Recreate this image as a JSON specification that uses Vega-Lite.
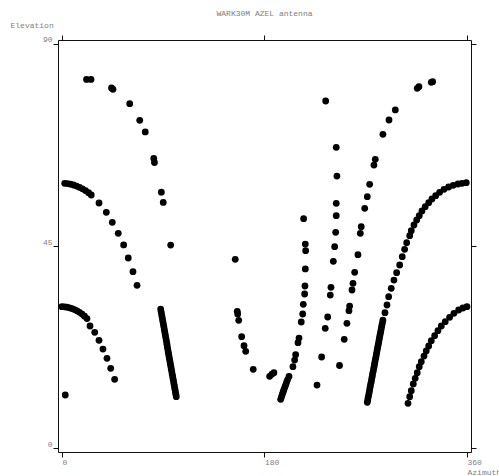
{
  "$schema": "https://vega.github.io/schema/vega-lite/v6.json",
  "width": 413,
  "height": 412,
  "autosize": {"type": "none"},
  "padding": {"left": 58, "top": 40, "right": 28, "bottom": 24},
  "background": "white",
  "title": {"text": "WARK30M AZEL antenna", "anchor": "middle", "frame": "group", "font": "Liberation Mono", "fontSize": 8, "fontWeight": "normal", "color": "#808080", "offset": 3},
  "config": {
    "view": {"stroke": "#111", "strokeWidth": 1},
    "axis": {"grid": false, "domain": false, "tickColor": "#111", "tickSize": 5, "tickWidth": 1, "labelFont": "Liberation Mono", "labelFontSize": 8, "labelColor": "#808080", "titleFont": "Liberation Mono", "titleFontSize": 8, "titleFontWeight": "normal", "titleColor": "#808080"}
  },
  "data": {"values": [
    {"az":21.8,"el":82.1},{"az":25.8,"el":82.1},{"az":44.0,"el":80.2},{"az":45.3,"el":79.9},{"az":60.2,"el":76.7},{"az":69.1,"el":73.0},{"az":74.0,"el":70.4},{"az":81.6,"el":64.5},{"az":82.2,"el":63.6},{"az":88.3,"el":57.0},{"az":90.0,"el":54.7},{"az":96.6,"el":45.2},
    {"az":2.4,"el":58.97},{"az":4.9,"el":58.9},{"az":7.6,"el":58.77},{"az":10.2,"el":58.59},{"az":12.9,"el":58.36},{"az":15.6,"el":58.08},{"az":18.2,"el":57.74},{"az":20.9,"el":57.34},{"az":23.6,"el":56.89},{"az":26.0,"el":56.36},{"az":32.9,"el":54.58},{"az":39.4,"el":52.51},{"az":44.7,"el":50.28},{"az":50.0,"el":47.83},{"az":54.8,"el":45.23},{"az":58.9,"el":42.33},{"az":63.1,"el":39.28},{"az":66.7,"el":36.24},
    {"az":0.0,"el":31.48},{"az":2.2,"el":31.46},{"az":4.4,"el":31.37},{"az":6.7,"el":31.23},{"az":8.9,"el":31.06},{"az":11.1,"el":30.83},{"az":13.3,"el":30.56},{"az":15.6,"el":30.23},{"az":17.8,"el":29.83},{"az":20.0,"el":29.36},{"az":22.2,"el":28.83},{"az":24.9,"el":27.18},{"az":29.1,"el":25.77},{"az":32.9,"el":23.99},{"az":36.4,"el":22.05},{"az":40.0,"el":19.98},{"az":43.3,"el":17.75},{"az":46.8,"el":15.3},
    {"az":2.9,"el":11.81},
    {"az":87.7,"el":30.96},{"az":88.1,"el":30.4},{"az":88.5,"el":29.84},{"az":88.9,"el":29.28},{"az":89.3,"el":28.72},{"az":89.7,"el":28.16},{"az":90.1,"el":27.61},{"az":90.5,"el":27.05},{"az":90.9,"el":26.49},{"az":91.3,"el":25.93},{"az":91.7,"el":25.37},{"az":92.1,"el":24.82},{"az":92.5,"el":24.26},{"az":92.9,"el":23.7},{"az":93.3,"el":23.14},{"az":93.6,"el":22.58},{"az":94.0,"el":22.03},{"az":94.4,"el":21.47},{"az":94.8,"el":20.91},{"az":95.2,"el":20.35},{"az":95.6,"el":19.79},{"az":96.0,"el":19.24},{"az":96.4,"el":18.68},{"az":96.8,"el":18.12},{"az":97.2,"el":17.56},{"az":97.6,"el":17.0},{"az":98.0,"el":16.45},{"az":98.4,"el":15.89},{"az":98.8,"el":15.33},{"az":99.2,"el":14.77},{"az":99.6,"el":14.21},{"az":100.0,"el":13.66},{"az":100.4,"el":13.1},{"az":100.8,"el":12.54},{"az":101.2,"el":11.98},{"az":101.6,"el":11.43},
    {"az":154.0,"el":42.04},
    {"az":155.8,"el":30.45},{"az":156.2,"el":29.85},{"az":157.1,"el":28.45},{"az":159.7,"el":24.79},{"az":161.8,"el":22.79},{"az":163.3,"el":21.54},{"az":170.0,"el":17.53},{"az":184.6,"el":15.97},{"az":186.7,"el":16.48},{"az":188.4,"el":16.77},
    {"az":194.4,"el":10.85},{"az":195.1,"el":11.36},{"az":195.8,"el":11.9},{"az":196.5,"el":12.43},{"az":197.2,"el":12.94},{"az":198.0,"el":13.48},{"az":198.8,"el":14.03},{"az":199.6,"el":14.59},{"az":200.5,"el":15.19},{"az":201.8,"el":15.93},{"az":205.3,"el":18.11},{"az":206.8,"el":19.6},{"az":207.7,"el":20.78},{"az":209.8,"el":23.46},{"az":210.7,"el":24.5},{"az":212.7,"el":28.07},{"az":214.0,"el":29.85},{"az":214.5,"el":32.01},{"az":215.7,"el":34.31},{"az":216.0,"el":36.09},{"az":216.3,"el":39.88},{"az":216.6,"el":43.95},{"az":216.3,"el":45.44},{"az":214.8,"el":51.08},
    {"az":234.4,"el":77.3},
    {"az":243.8,"el":66.99},{"az":244.4,"el":60.59},{"az":243.8,"el":54.51},{"az":243.8,"el":51.75},{"az":243.3,"el":48.05},{"az":242.4,"el":44.84},{"az":241.2,"el":41.59},{"az":239.1,"el":35.8},{"az":238.5,"el":34.08},{"az":236.2,"el":29.18},{"az":234.0,"el":26.67},{"az":230.8,"el":20.27},{"az":226.7,"el":14.03},{"az":246.7,"el":18.38},
    {"az":329.5,"el":81.6},{"az":328.3,"el":81.47},{"az":317.3,"el":80.49},{"az":315.8,"el":80.13},{"az":296.3,"el":75.3},{"az":290.7,"el":73.07},{"az":285.3,"el":69.88},{"az":278.5,"el":64.31},{"az":277.3,"el":63.04},{"az":273.5,"el":58.74},{"az":271.4,"el":55.98},{"az":269.1,"el":53.4},{"az":266.0,"el":49.3},{"az":265.2,"el":47.83},{"az":263.1,"el":43.06},{"az":260.2,"el":39.14},{"az":258.7,"el":36.69},{"az":257.8,"el":35.2},{"az":255.7,"el":31.63},{"az":255.1,"el":30.59},{"az":253.3,"el":27.78},{"az":250.9,"el":24.21},
    {"az":271.4,"el":10.18},{"az":271.8,"el":10.74},{"az":272.2,"el":11.3},{"az":272.7,"el":11.85},{"az":273.1,"el":12.41},{"az":273.5,"el":12.96},{"az":273.9,"el":13.52},{"az":274.3,"el":14.07},{"az":274.8,"el":14.63},{"az":275.2,"el":15.18},{"az":275.6,"el":15.74},{"az":276.0,"el":16.29},{"az":276.4,"el":16.85},{"az":276.9,"el":17.4},{"az":277.3,"el":17.96},{"az":277.7,"el":18.51},{"az":278.1,"el":19.07},{"az":278.5,"el":19.62},{"az":279.0,"el":20.18},{"az":279.4,"el":20.73},{"az":279.8,"el":21.29},{"az":280.2,"el":21.84},{"az":280.6,"el":22.4},{"az":281.1,"el":22.95},{"az":281.5,"el":23.51},{"az":281.9,"el":24.06},{"az":282.3,"el":24.62},{"az":282.7,"el":25.17},{"az":283.2,"el":25.73},{"az":283.6,"el":26.28},{"az":284.0,"el":26.84},{"az":284.4,"el":27.4},{"az":284.9,"el":27.95},{"az":285.3,"el":28.51},
    {"az":287.1,"el":30.14},{"az":288.9,"el":31.86},{"az":290.4,"el":33.7},{"az":292.7,"el":35.58},{"az":295.1,"el":37.42},{"az":297.5,"el":39.05},{"az":300.2,"el":40.77},{"az":302.5,"el":42.62},{"az":304.6,"el":44.26},{"az":306.4,"el":45.73},
    {"az":309.1,"el":47.29},{"az":310.5,"el":48.41},{"az":312.9,"el":49.68},{"az":315.3,"el":50.79},{"az":317.6,"el":51.75},{"az":320.0,"el":52.8},{"az":322.9,"el":53.75},{"az":326.0,"el":54.64},{"az":328.9,"el":55.47},{"az":332.2,"el":56.2},{"az":335.7,"el":56.96},{"az":339.6,"el":57.63},{"az":343.7,"el":58.14},{"az":347.8,"el":58.52},{"az":352.0,"el":58.81},{"az":355.6,"el":58.97},{"az":359.4,"el":59.1},
    {"az":307.6,"el":9.96},{"az":309.1,"el":11.43},{"az":310.5,"el":12.76},{"az":312.3,"el":14.26},{"az":314.0,"el":15.53},{"az":315.8,"el":16.77},{"az":317.6,"el":18.11},{"az":319.4,"el":19.22},{"az":321.8,"el":20.49},{"az":323.8,"el":21.61},{"az":326.0,"el":22.72},{"az":328.3,"el":23.9},{"az":331.3,"el":25.02},{"az":334.2,"el":26.13},{"az":337.2,"el":27.18},{"az":340.7,"el":28.14},{"az":344.6,"el":29.12},{"az":348.4,"el":30.01},{"az":352.6,"el":30.74},{"az":356.4,"el":31.19},{"az":360.0,"el":31.48}
  ]},
  "layer": [
    {
      "mark": {"type": "point", "filled": true, "shape": "circle", "color": "black", "opacity": 1, "size": 46},
      "encoding": {
        "x": {"field": "az", "type": "quantitative", "scale": {"domain": [-3.56, 363.6], "nice": false, "zero": false},
          "axis": {"orient": "bottom", "values": [0, 180, 360], "title": "Azimuth", "titleAlign": "left", "titleBaseline": "middle", "titleX": 409, "titleY": 20, "labelAlign": "left", "labelBaseline": "top", "labelPadding": 1, "labelDx": 1, "labelFlush": false, "labelOverlap": false}},
        "y": {"field": "el", "type": "quantitative", "scale": {"domain": [-0.89, 90.89], "nice": false, "zero": false},
          "axis": {"orient": "left", "values": [0, 45, 90], "title": "Elevation", "titleAngle": 0, "titleAlign": "left", "titleBaseline": "middle", "titleX": -48, "titleY": -15, "labelAlign": "right", "labelBaseline": "bottom", "labelPadding": 1, "labelDy": -1, "labelFlush": false, "labelOverlap": false}}
      }
    },
    {
      "mark": {"type": "point", "filled": true, "shape": "circle", "opacity": 0, "size": 1},
      "encoding": {
        "x": {"field": "az", "type": "quantitative", "axis": {"orient": "top", "values": [0, 180, 360], "labels": false, "title": null}},
        "y": {"field": "el", "type": "quantitative", "axis": {"orient": "right", "values": [0, 45, 90], "labels": false, "title": null}}
      }
    }
  ],
  "resolve": {"axis": {"x": "independent", "y": "independent"}}
}
